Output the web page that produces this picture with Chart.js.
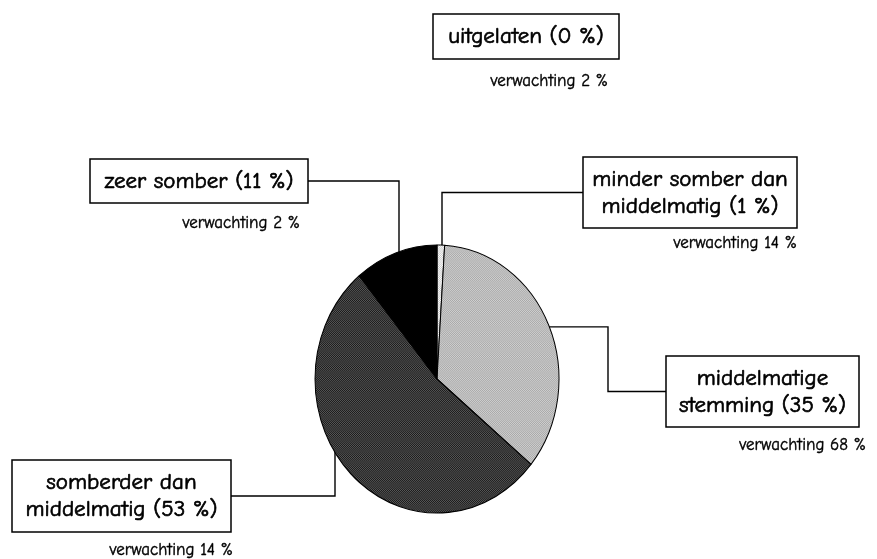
<!DOCTYPE html>
<html>
<head>
<meta charset="utf-8">
<script src="https://cdn.jsdelivr.net/npm/chart.js@4/dist/chart.umd.min.js"></script>
<style>
html,body{margin:0;padding:0;background:#fff;}
#wrap{width:877px;height:559px;position:relative;}
</style>
</head>
<body>
<div id="wrap"><canvas id="c" width="877" height="559"></canvas></div>
<script>
// ---- data ----
const categoryLines = [
  ['uitgelaten'],
  ['minder somber dan', 'middelmatig'],
  ['middelmatige', 'stemming'],
  ['somberder dan', 'middelmatig'],
  ['zeer somber']
];
const values = [0, 1, 35, 53, 11];
const expectations = [2, 14, 68, 14, 2];

// ---- layout (boxes, connectors) ----
const boxes = [
  {x:433, y:14,  w:186, h:45, exX:608, exY:81,  route:'none'},
  {x:583, y:157, w:214, h:71, exX:797, exY:243, side:'left',  elbowX:442, route:'hv'},
  {x:666, y:356, w:193, h:71, exX:866, exY:445, side:'left',  elbowX:608, route:'hvh'},
  {x:12,  y:460, w:219, h:72, exX:233, exY:550, side:'right', elbowX:335, route:'hv'},
  {x:90,  y:159, w:218, h:44, exX:300, exY:223, side:'right', elbowX:399, route:'hv'}
];
const RX = 122, RY = 134;
const FONT = "'Comic Sans MS','Comic Neue','DejaVu Sans',sans-serif";

function makePattern(c1, c2, size) {
  const p = document.createElement('canvas');
  p.width = size; p.height = size;
  const g = p.getContext('2d');
  g.fillStyle = c1; g.fillRect(0,0,size,size);
  g.fillStyle = c2;
  for (let i=0;i<size;i++) for (let j=0;j<size;j++) if ((i+j)%2===0) g.fillRect(i,j,1,1);
  return g.createPattern(p, 'repeat');
}
const fills = [
  '#ffffff',
  makePattern('#ffffff', '#c8c8c8', 4),
  makePattern('#a8a8a8', '#d0d0d0', 4),
  makePattern('#1a1a1a', '#585858', 4),
  '#000000'
];

function boldText(ctx, t, x, y, w) {
  ctx.fillText(t, x, y);
  ctx.lineWidth = w;
  ctx.strokeText(t, x, y);
}

const ellipsePlugin = {
  id: 'ellipse',
  beforeDatasetsDraw(chart) {
    const ctx = chart.ctx;
    const meta = chart.getDatasetMeta(0);
    const cx = meta.data[0].x, cy = meta.data[0].y;
    ctx.save();
    ctx.strokeStyle = '#000';
    ctx.lineWidth = 1.4;
    boxes.forEach((b, i) => {
      if (b.route === 'none') return;
      const a = meta.data[i];
      const mid = (a.startAngle + a.endAngle) / 2;
      const ay = cy + Math.sin(mid) * RY * 0.98;
      const sx = b.side === 'left' ? b.x : b.x + b.w;
      const sy = b.y + b.h / 2;
      ctx.beginPath();
      ctx.moveTo(sx, sy);
      ctx.lineTo(b.elbowX, sy);
      if (b.route === 'hv') {
        ctx.lineTo(b.elbowX, cy);
      } else {
        ctx.lineTo(b.elbowX, ay);
        ctx.lineTo(cx, ay);
      }
      ctx.stroke();
    });
    ctx.restore();
    ctx.save();
    ctx.translate(cx, cy);
    ctx.scale(1, RY / RX);
    ctx.translate(-cx, -cy);
  },
  afterDatasetsDraw(chart) {
    const ctx = chart.ctx;
    ctx.restore();
    ctx.save();
    boxes.forEach((b, i) => {
      ctx.fillStyle = '#fff';
      ctx.fillRect(b.x, b.y, b.w, b.h);
      ctx.strokeStyle = '#000';
      ctx.lineWidth = 1.5;
      ctx.strokeRect(b.x, b.y, b.w, b.h);
      const lines = categoryLines[i].slice();
      lines[lines.length-1] = lines[lines.length-1] + ' (' + values[i] + ' %)';
      ctx.fillStyle = '#000';
      ctx.font = '23px ' + FONT;
      ctx.textAlign = 'center';
      ctx.textBaseline = 'middle';
      const lh = 27;
      const y0 = b.y + b.h/2 - (lines.length-1)*lh/2;
      lines.forEach((t, k) => boldText(ctx, t, b.x + b.w/2, y0 + k*lh, 0.7));
      ctx.font = '17px ' + FONT;
      ctx.textAlign = 'right';
      boldText(ctx, 'verwachting ' + expectations[i] + ' %', b.exX, b.exY, 0.4);
    });
    ctx.restore();
  }
};

new Chart(document.getElementById('c'), {
  type: 'pie',
  data: {
    labels: categoryLines.map(l => l.join(' ')),
    datasets: [{
      data: values,
      backgroundColor: fills,
      borderColor: '#000',
      borderWidth: 1
    }]
  },
  options: {
    responsive: false,
    animation: false,
    radius: RX,
    layout: {padding: {left: 315, right: 318, top: 257, bottom: 58}},
    plugins: {legend: {display: false}, tooltip: {enabled: false}}
  },
  plugins: [ellipsePlugin]
});
</script>
</body>
</html>
